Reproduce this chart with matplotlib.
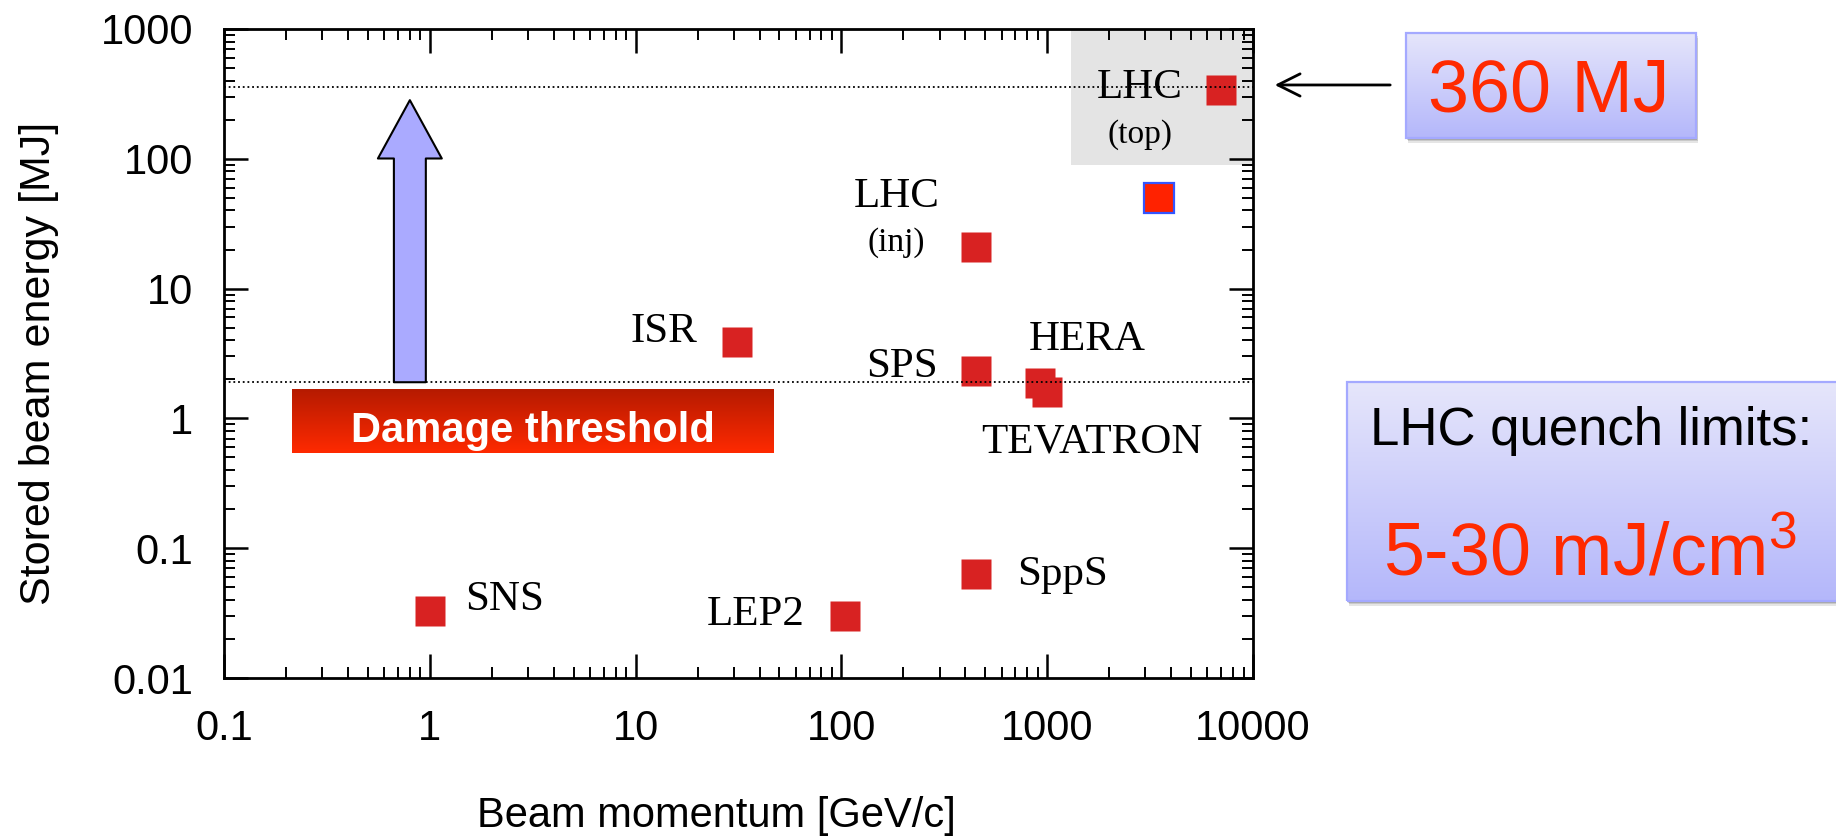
import numpy as np
import matplotlib.pyplot as plt
from matplotlib.colors import LinearSegmentedColormap
from matplotlib.patches import Rectangle, FancyArrowPatch
from matplotlib.ticker import LogLocator, NullFormatter

SANS = "Liberation Sans"
SERIF = "Liberation Serif"
plt.rcParams["mathtext.fontset"] = "custom"
plt.rcParams["mathtext.rm"] = SANS
plt.rcParams["mathtext.it"] = SANS + ":italic"
plt.rcParams["mathtext.bf"] = SANS + ":bold"

# accelerator data: beam momentum [GeV/c] vs stored energy [MJ]
momentum = [1, 104, 450, 31, 450, 920, 1000, 450, 7000]
energy = [0.033, 0.030, 0.063, 3.9, 2.3, 1.87, 1.6, 21, 340]
# LHC at 3.5 TeV, highlighted with a blue edge
lhc_now_momentum = [3500]
lhc_now_energy = [50]

label_text = ["SNS", "LEP2", "SppS", "ISR", "SPS", "HERA", "TEVATRON",
              "LHC", "(inj)", "LHC", "(top)"]
label_x = [2.32, 38.5, 1180, 13.7, 197, 1560, 1650, 186, 185, 2825, 2825]
label_y = [0.0334, 0.0256, 0.0521, 3.88, 2.08, 3.37, 0.551, 42.6, 19.5, 294, 132]
label_size = [31, 31, 31, 31, 31, 31, 31, 31, 24, 31, 24]

x_ticks = [0.1, 1, 10, 100, 1000, 10000]
x_ticklabels = ["0.1", "1", "10", "100", "1000", "10000"]
y_ticks = [0.01, 0.1, 1, 10, 100, 1000]
y_ticklabels = ["0.01", "0.1", "1", "10", "100", "1000"]

damage_level = 1.9
lhc_top_level = 360
arrow_x = 0.8
arrow_top = 283
top_box_x = (1300, 10000)
top_box_y = (89, 1000)

fig = plt.figure(figsize=(18.36, 8.38), dpi=100)
ax = fig.add_axes([0.122, 0.1909, 0.5605, 0.7745])
ax.set_xscale("log")
ax.set_yscale("log")
ax.set_xlim(0.1, 10000)
ax.set_ylim(0.01, 1000)

# grey region behind LHC (top)
ax.fill_between(top_box_x, top_box_y[0], top_box_y[1], color="#e4e4e4",
                lw=0, zorder=0)

ax.plot(momentum, energy, ls="none", marker="s", ms=21.5, mfc="#d82222",
        mec="none", zorder=3)
ax.plot(lhc_now_momentum, lhc_now_energy, ls="none", marker="s", ms=22,
        mfc="#ff2200", mec="#3355ff", mew=1.6, zorder=3)

for lvl in (damage_level, lhc_top_level):
    ax.axhline(lvl, color="black", lw=1.3, ls=(0, (1, 1.6)), zorder=4)

for t, x, y, s in zip(label_text, label_x, label_y, label_size):
    ax.text(x, y, t, family=SERIF, fontsize=s, ha="center", va="baseline",
            zorder=5)

# big lavender arrow from damage threshold up to LHC level
arr = FancyArrowPatch((arrow_x, damage_level), (arrow_x, arrow_top),
                      arrowstyle="simple,head_length=42,head_width=46,tail_width=23",
                      mutation_scale=1, shrinkA=0, shrinkB=0,
                      fc="#aaaaff", ec="black", lw=1.5, zorder=6)
ax.add_patch(arr)

ax.set_xticks(x_ticks)
ax.set_xticklabels(x_ticklabels)
ax.set_yticks(y_ticks)
ax.set_yticklabels(y_ticklabels)
ax.xaxis.set_minor_locator(LogLocator(base=10, subs=np.arange(2, 10)))
ax.yaxis.set_minor_locator(LogLocator(base=10, subs=np.arange(2, 10)))
ax.xaxis.set_minor_formatter(NullFormatter())
ax.yaxis.set_minor_formatter(NullFormatter())
ax.tick_params(which="both", direction="in", top=True, right=True)
ax.tick_params(which="major", length=17, width=1.8, labelsize=30, pad=22)
ax.tick_params(which="minor", length=8, width=1.4)
for lab in ax.get_xticklabels() + ax.get_yticklabels():
    lab.set_family(SANS)
for sp in ax.spines.values():
    sp.set_linewidth(2.0)

fig.text(0.021, 0.566, "Stored beam energy [MJ]", family=SANS, fontsize=31,
         rotation=90, ha="center", va="center")
fig.text(0.39, 0.002, "Beam momentum [GeV/c]", family=SANS, fontsize=30,
         ha="center", va="bottom")


def grad_box(rect, top, bottom, edge=None, shadow=False):
    if shadow:
        for i, a in enumerate([0.10, 0.12, 0.16]):
            d = 0.004 - i * 0.0012
            fig.add_artist(Rectangle((rect[0] + d * 0.3, rect[1] - d * 1.4),
                                     rect[2], rect[3], transform=fig.transFigure,
                                     fc="black", ec="none", alpha=a, zorder=-1))
    bax = fig.add_axes(rect)
    cmap = LinearSegmentedColormap.from_list("g", [bottom, top])
    bax.imshow(np.linspace(0, 1, 256)[:, None], aspect="auto", cmap=cmap,
               origin="lower", extent=[0, 1, 0, 1])
    bax.set_axis_off()
    if edge:
        bax.add_patch(Rectangle((0, 0), 1, 1, transform=bax.transAxes,
                                fill=False, ec=edge, lw=1.6, clip_on=False))
    return bax


dmg = grad_box([0.159, 0.4594, 0.262, 0.0764], "#b41a00", "#ff2a00")
dmg.text(0.5, 0.17, "Damage threshold", transform=dmg.transAxes, family=SANS,
         fontsize=30, fontweight="bold", color="white", ha="center", va="baseline")

top_box = grad_box([0.7658, 0.8353, 0.158, 0.1253], "#e6e6fb", "#b4b7fa",
                   edge="#a4a9ff", shadow=True)
top_box.text(0.491, 0.25, "360 MJ", transform=top_box.transAxes, family=SANS,
             fontsize=53, color="#ff2a00", ha="center", va="baseline")

q_box = grad_box([0.7337, 0.2828, 0.28, 0.2613], "#e6e6fb", "#b4b7fa",
                 edge="#a4a9ff", shadow=True)
q_box.text(0.045, 0.712, "LHC quench limits:", transform=q_box.transAxes,
           family=SANS, fontsize=38, color="black", ha="left", va="baseline")
q_box.text(0.069, 0.119, "5-30 mJ/cm$^3$", transform=q_box.transAxes,
           family=SANS, fontsize=53, color="#ff2a00", ha="left", va="baseline")

fig.add_artist(FancyArrowPatch((0.7587, 0.8986), (0.6928, 0.8986),
                               transform=fig.transFigure,
                               arrowstyle="->,head_length=16,head_width=8",
                               mutation_scale=1, lw=2, color="black"))

fig.savefig("out.png", dpi=100)
